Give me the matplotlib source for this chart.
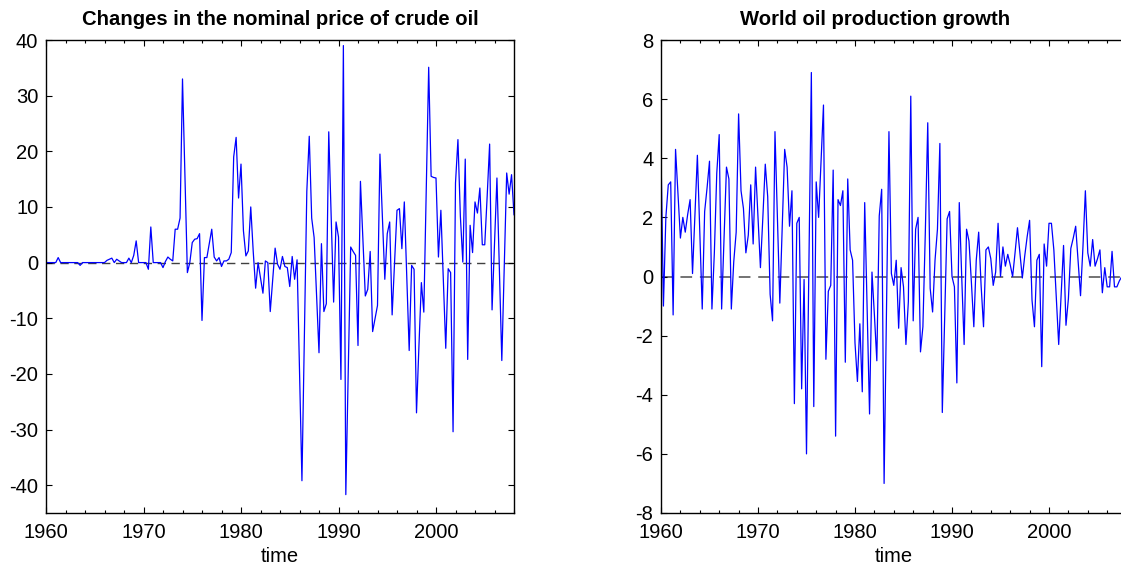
import numpy as np
import matplotlib
matplotlib.use('Agg')
import matplotlib.pyplot as plt
from matplotlib.ticker import MultipleLocator

plt.rcParams['font.family'] = ['Liberation Sans', 'DejaVu Sans']
plt.rcParams['axes.unicode_minus'] = False

start_year = 1960

# quarterly changes in the nominal oil price, 1960Q1 ...
price_change = [
    0, 0, 0, 0,   0, 0.9, 0, 0,   0, 0, 0, 0,   0, 0, -0.5, 0,
    0, 0, 0, 0,   0, 0, 0, 0,   0, 0.4, 0.6, 0.8,   0, 0.6, 0.3, 0,
    0, 0, 0.8, 0,   1.3, 3.9, 0, 0,   0, 0, -1.2, 6.4,   0, 0, 0, 0,
    -0.9, 0.2, 1.0, 0.6,   0.3, 6.0, 6.0, 8.0,   33.0, 15.5, -1.8, 0.0,
    3.6, 4.2, 4.3, 5.2,   -10.4, 0.9, 0.9, 3.4,   6.0, 1.0, 0.3, 0.9,
    -0.7, 0.3, 0.3, 0.6,   1.8, 19.0, 22.5, 11.6,   17.7, 5.7, 1.2, 2.1,
    10.0, 2.1, -4.6, 0.0,   -2.7, -5.5, 0.3, 0.0,   -8.8, -3.0, 2.6, -0.3,
    -1.2, 1.1, -0.7, -0.9,   -4.3, 1.1, -3.0, 0.5,   -19.0, -39.2, -13.0, 12.8,
    22.7, 8.0, 4.5, -6.0,   -16.2, 3.4, -8.8, -7.4,   23.5, 8.0, -7.1, 7.3,
    4.6, -21.0, 39.0, -41.7,   -19.0, 2.8, 2.0, 1.3,   -14.9, 14.6, 4.3, -6.0,
    -4.8, 2.0, -12.4, -10.0,   -7.7, 19.5, 8.0, -3.0,   5.2, 7.3, -9.4, 0.0,
    9.4, 9.7, 2.5, 10.9,   -2.5, -15.8, -0.5, -1.2,   -27.0, -15.0, -3.6, -8.9,
    13.0, 35.1, 15.5, 15.3,   15.2, 1.0, 9.4, -3.0,   -15.4, -1.1, -1.8, -30.4,
    14.3, 22.1, 8.3, 0.1,   18.6, -17.4, 6.7, 1.8,   10.9, 8.9, 13.4, 3.2,
    3.2, 12.0, 21.3, -8.5,   3.3, 15.2, -1.0, -17.6,   -0.8, 16.1, 12.3, 15.8,
    8.6,
]

# quarterly world oil production growth, 1960Q1 ...
prod_growth = [
    4.2, -1.0, 2.0, 3.1,   3.2, -1.3, 4.3, 2.8,   1.3, 2.0, 1.5, 2.1,   2.6, 0.1, 2.1, 4.1,
    1.5, -1.1, 2.2, 3.0,   3.9, -1.1, 0.8, 3.5,   4.8, -1.1, 1.3, 3.7,   3.3, -1.1, 0.5, 1.5,
    5.5, 2.9, 2.3, 0.8,   1.4, 3.1, 1.1, 3.7,   2.0, 0.3, 2.0, 3.8,   2.7, -0.6, -1.5, 4.9,
    2.0, -0.9, 1.7, 4.3,   3.7, 1.7, 2.9, -4.3,   1.8, 2.0, -3.8, -0.1,   -6.0, 0.5, 6.9, -4.4,
    3.2, 2.0, 3.9, 5.8,   -2.8, -0.5, -0.3, 3.6,   -5.4, 2.6, 2.4, 2.9,   -2.9, 3.3, 0.9, 0.55,
    -2.25, -3.55, -1.6, -3.9,   2.5, -1.1, -4.65, 0.15,   -1.3, -2.85, 2.05, 2.95,   -7.0, -1.0, 4.9, 0.1,
    -0.3, 0.55, -1.75, 0.3,   -0.35, -2.3, -0.85, 6.1,   -1.5, 1.6, 2.0, -2.55,   -1.7, 1.5, 5.2, -0.4,
    -1.2, 0.55, 1.6, 4.5,   -4.6, -1.3, 1.95, 2.2,   0.0, -0.35, -3.6, 2.5,   0.0, -2.3, 1.6, 1.2,
    -0.2, -1.7, 0.55, 1.5,   -0.3, -1.7, 0.9, 1.0,   0.6, -0.3, 0.15, 1.8,   0.0, 1.0, 0.35, 0.75,
    0.4, 0.0, 0.8, 1.65,   0.8, -0.05, 0.7, 1.35,   1.9, -0.8, -1.7, 0.55,   0.75, -3.05, 1.1, 0.35,
    1.8, 1.8, 0.9, -0.7,   -2.3, -0.6, 1.05, -1.65,   -0.75, 0.95, 1.3, 1.7,   0.5, -0.65, 1.0, 2.9,
    0.8, 0.35, 1.25, 0.35,   0.6, 0.9, -0.55, 0.3,   -0.35, -0.35, 0.85, -0.35,   -0.35, -0.15, 0.0, 0.1,
    0.2,
]

titles = ['Changes in the nominal price of crude oil', 'World oil production growth']
ylims = [(-45, 40), (-8, 8)]
ysteps = [10, 2]
zero_colors = ['0.25', '0.45']


def time_axis(values):
    return start_year + np.arange(len(values)) / 4.0


fig = plt.figure(figsize=(11.21, 5.69), dpi=100)
W, H = 1121.0, 569.0
boxes = [(46, 40, 514, 513), (661, 40, 1126.6, 513)]
title_x = [0.5, 0.46]

for i, series in enumerate([price_change, prod_growth]):
    x0, y0, x1, y1 = boxes[i]
    ax = fig.add_axes([x0 / W, 1 - y1 / H, (x1 - x0) / W, (y1 - y0) / H])
    t = time_axis(series)
    ax.axhline(0, color=zero_colors[i], lw=1.0 + 0.4 * i, ls=(0, (6, 4)), zorder=1)
    ax.plot(t, series, color='#0000ff', lw=0.9, zorder=2)
    ax.set_xlim(1960, 2008)
    ax.set_ylim(*ylims[i])
    ax.xaxis.set_major_locator(MultipleLocator(10))
    ax.xaxis.set_minor_locator(MultipleLocator(2))
    ax.yaxis.set_major_locator(MultipleLocator(ysteps[i]))
    ax.tick_params(which='both', direction='in', top=True, right=True,
                   labelsize=14.5, width=0.8, colors='black')
    ax.tick_params(which='major', length=4)
    ax.tick_params(which='minor', length=2.5)
    ax.tick_params(axis='x', which='major', pad=7)
    ax.tick_params(axis='y', which='major', pad=5.5)
    for s in ax.spines.values():
        s.set_linewidth(1.0)
    ax.set_title(titles[i], fontsize=14.6, fontweight='bold', pad=11, x=title_x[i])
    ax.set_xlabel('time', fontsize=14.5, labelpad=4)

fig.savefig('out.png', dpi=100)
